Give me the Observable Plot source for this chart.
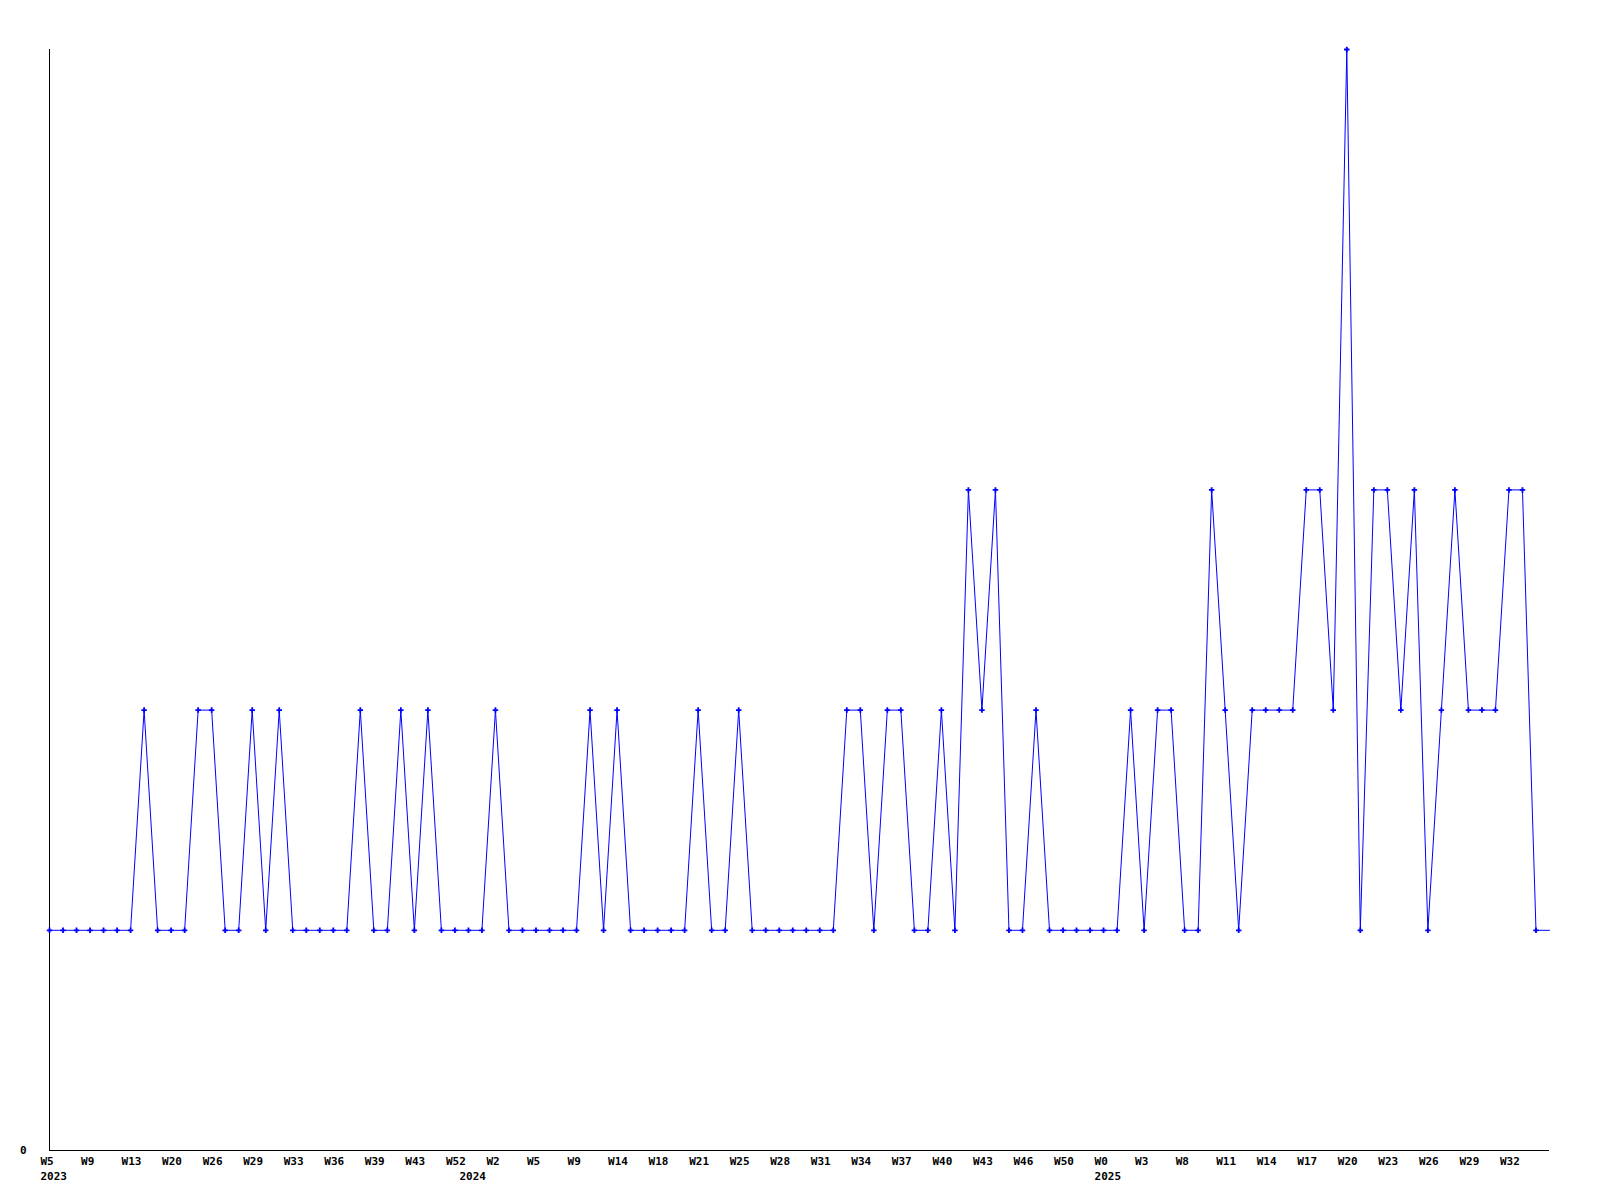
<!DOCTYPE html>
<html>
<head>
<meta charset="utf-8">
<script src="https://cdn.jsdelivr.net/npm/d3@7"></script>
<script src="https://cdn.jsdelivr.net/npm/@observablehq/plot@0.6"></script>
<style>
  html, body { margin: 0; padding: 0; background: #fff; }
  #chart { width: 1600px; height: 1200px; }
</style>
</head>
<body>
<div id="chart"></div>
<script>
// Tick labels shown every third data point
const tickLabels = ["W5","W9","W13","W20","W26","W29","W33","W36","W39","W43","W52","W2",
  "W5","W9","W14","W18","W21","W25","W28","W31","W34","W37","W40","W43","W46","W50",
  "W0","W3","W8","W11","W14","W17","W20","W23","W26","W29","W32"];
// Year labels and the data point index where each year starts
const yearLabels = ["2023","2024","2025"];
const yearStarts = [0, 31, 78];
// Weekly values, in order
const values = [
  1,1,1,1,1,1,1,2,1,1,
  1,2,2,1,1,2,1,2,1,1,
  1,1,1,2,1,1,2,1,2,1,
  1,1,1,2,1,1,1,1,1,1,
  2,1,2,1,1,1,1,1,2,1,
  1,2,1,1,1,1,1,1,1,2,
  2,1,2,2,1,1,2,1,3,2,
  3,1,1,2,1,1,1,1,1,1,
  2,1,2,2,1,1,3,2,1,2,
  2,2,2,3,3,2,5,1,3,3,
  2,3,1,2,3,2,2,2,3,3,
  1,1
];

const data = values.map((v, i) => ({i, v}));
const last = values.length - 1;
const font = "'DejaVu Sans Mono', monospace";

const chart = Plot.plot({
  width: 1600,
  height: 1200,
  marginLeft: 49,
  marginRight: 51,
  marginTop: 49,
  marginBottom: 50,
  style: {background: "#fff", color: "#000"},
  x: {domain: [0, last], axis: null, label: null},
  y: {domain: [0, 5], axis: null, label: null},
  marks: [
    Plot.ruleX([0], {y1: 0, y2: 5, stroke: "#000", strokeWidth: 1, shapeRendering: "crispEdges"}),
    Plot.ruleY([0], {stroke: "#000", strokeWidth: 1, shapeRendering: "crispEdges"}),
    Plot.line(data, {x: "i", y: "v", stroke: "#0000ff", strokeWidth: 1}),
    Plot.dot(data, {x: "i", y: "v", filter: d => d.i < last, symbol: "cross", r: 2.3, fill: "#0000ff", stroke: null}),
    Plot.axisX({
      ticks: d3.range(0, tickLabels.length * 3, 3),
      tickFormat: d => tickLabels[d / 3],
      label: null,
      tickSize: 0, tickPadding: 7, textAnchor: "start", dx: -9,
      fontSize: 11, fontWeight: "bold", fontFamily: font, fill: "#000"
    }),
    Plot.axisX({
      ticks: yearStarts,
      tickFormat: d => yearLabels[yearStarts.indexOf(d)],
      label: null,
      tickSize: 0, tickPadding: 22, textAnchor: "start", dx: -9,
      fontSize: 11, fontWeight: "bold", fontFamily: font, fill: "#000"
    }),
    Plot.axisY({
      ticks: [0], tickFormat: d => String(d),
      label: null,
      tickSize: 0, tickPadding: 23,
      fontSize: 11, fontWeight: "bold", fontFamily: font, fill: "#000"
    })
  ]
});
document.getElementById("chart").appendChild(chart);
</script>
</body>
</html>
